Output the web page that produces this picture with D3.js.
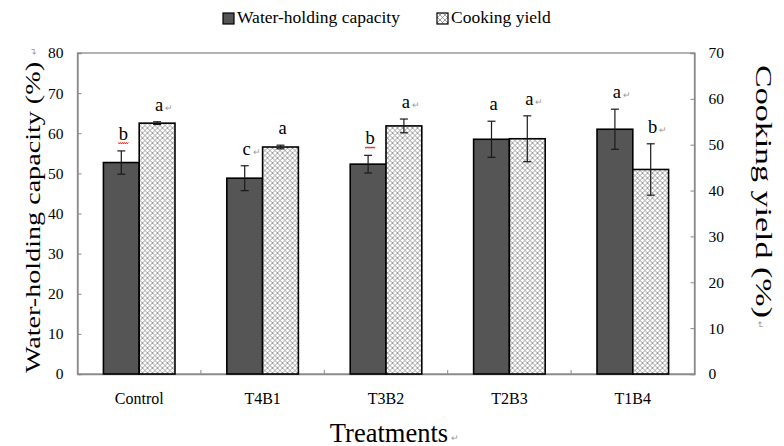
<!DOCTYPE html>
<html>
<head>
<meta charset="utf-8">
<script src="https://cdn.jsdelivr.net/npm/d3@7"></script>
<style>
  body { margin: 0; background: #fff; }
  svg, text { font-family: "Liberation Serif", "Times New Roman", serif; }
</style>
</head>
<body>
<div id="chart"></div>
<script>
// data
const categories = ['Control', 'T4B1', 'T3B2', 'T2B3', 'T1B4'];
const whc = [52.7, 48.8, 52.3, 58.5, 61.0];
const whcErr = [2.9, 3.1, 2.2, 4.5, 5.0];
const cy = [54.7, 49.5, 54.1, 51.3, 44.6];
const cyErr = [0.3, 0.4, 1.5, 5.0, 5.6];
// significance letters, a trailing ↵ is the Word paragraph mark left in the figure
const whcLetters = ['b', 'c↵', 'b', 'a', 'a↵'];
const cyLetters = ['a↵', 'a', 'a↵', 'a↵', 'b↵'];
const leftTicks = [0, 10, 20, 30, 40, 50, 60, 70, 80];
const rightTicks = [0, 10, 20, 30, 40, 50, 60, 70];

const serif = '"Liberation Serif", "Times New Roman", serif';
const width = 784, height = 446;
const margin = { top: 53, right: 89.5, bottom: 72, left: 77.5 };
const plotW = width - margin.left - margin.right;
const plotH = height - margin.top - margin.bottom;

const svg = d3.select('#chart').append('svg')
  .attr('width', width)
  .attr('height', height)
  .attr('font-family', serif);

svg.append('rect').attr('width', width).attr('height', height).attr('fill', '#fff');

// cross hatch used by the cooking yield bars
const defs = svg.append('defs');
const pat = defs.append('pattern')
  .attr('id', 'hatch')
  .attr('patternUnits', 'userSpaceOnUse')
  .attr('width', 5).attr('height', 5);
pat.append('rect').attr('width', 5).attr('height', 5).attr('fill', '#fff');
pat.append('path')
  .attr('d', 'M0,0L5,5M5,0L0,5M-1,4L1,6M4,-1L6,1M-1,1L1,-1M4,6L6,4')
  .attr('stroke', '#777')
  .attr('stroke-width', 0.7);

const g = svg.append('g').attr('transform', `translate(${margin.left},${margin.top})`);

const x0 = d3.scaleBand().domain(categories).range([0, plotW])
  .paddingInner(0.42).paddingOuter(0.21);
const x1 = d3.scaleBand().domain(['whc', 'cy']).range([0, x0.bandwidth()]);
const yL = d3.scaleLinear().domain([0, 80]).range([plotH, 0]);
const yR = d3.scaleLinear().domain([0, 70]).range([plotH, 0]);

// frame
g.append('rect')
  .attr('width', plotW).attr('height', plotH)
  .attr('fill', 'none').attr('stroke', '#8a8a8a').attr('stroke-width', 1.3);

// left axis
const axL = g.append('g').call(d3.axisLeft(yL).tickValues(leftTicks).tickSize(-4).tickPadding(14));
// right axis
const axR = g.append('g').attr('transform', `translate(${plotW},0)`)
  .call(d3.axisRight(yR).tickValues(rightTicks).tickSize(-4).tickPadding(14));
[axL, axR].forEach(a => {
  a.attr('font-family', serif).attr('font-size', 15.5);
  a.select('.domain').attr('stroke', '#8a8a8a').attr('stroke-width', 1.3);
  a.selectAll('.tick line').attr('stroke', '#8a8a8a');
  a.selectAll('.tick text').attr('fill', '#000');
});

// x axis: category labels, small ticks between groups
const axX = g.append('g').attr('transform', `translate(0,${plotH})`)
  .call(d3.axisBottom(x0).tickSize(0).tickPadding(19));
axX.attr('font-family', serif).attr('font-size', 16);
axX.select('.domain').attr('stroke', '#8a8a8a').attr('stroke-width', 1.3);
axX.selectAll('.tick text').attr('fill', '#000');
g.append('g').selectAll('line')
  .data(categories.slice(1))
  .join('line')
  .attr('x1', d => x0(d) - x0.step() * x0.paddingInner() / 2)
  .attr('x2', d => x0(d) - x0.step() * x0.paddingInner() / 2)
  .attr('y1', plotH).attr('y2', plotH - 4)
  .attr('stroke', '#8a8a8a');

// series table built from the arrays
const rows = categories.map((c, i) => [
  { cat: c, key: 'whc', v: whc[i], e: whcErr[i], lab: whcLetters[i], y: yL },
  { cat: c, key: 'cy', v: cy[i], e: cyErr[i], lab: cyLetters[i], y: yR }
]).flat();

const bx = d => x0(d.cat) + x1(d.key);
const bw = x1.bandwidth();

g.append('g').selectAll('rect')
  .data(rows)
  .join('rect')
  .attr('x', bx)
  .attr('y', d => d.y(d.v))
  .attr('width', bw)
  .attr('height', d => plotH - d.y(d.v))
  .attr('fill', d => d.key === 'whc' ? '#555555' : 'url(#hatch)')
  .attr('stroke', '#000')
  .attr('stroke-width', 1.6);

// error bars
const eb = g.append('g').attr('stroke', '#1a1a1a').attr('stroke-width', 1.2);
rows.forEach(d => {
  const cx = bx(d) + bw / 2;
  const top = d.y(d.v + d.e), bot = d.y(d.v - d.e);
  eb.append('line').attr('x1', cx).attr('x2', cx).attr('y1', top).attr('y2', bot);
  eb.append('line').attr('x1', cx - 4).attr('x2', cx + 4).attr('y1', top).attr('y2', top);
  eb.append('line').attr('x1', cx - 4).attr('x2', cx + 4).attr('y1', bot).attr('y2', bot);
});

// significance letters
rows.forEach(d => {
  const cx = bx(d) + bw / 2 + 2;
  const base = d.y(d.v + d.e) - 11;
  const letter = d.lab[0];
  g.append('text')
    .attr('x', cx).attr('y', base)
    .attr('text-anchor', 'middle')
    .style('font-size', '18.5px')
    .text(letter);
  if (d.lab.length > 1) {
    g.append('text')
      .attr('x', cx + 6).attr('y', base)
      .style('font-size', '9px').style('fill', '#999')
      .text('↵');
  }
  if (letter === 'b' && d.key === 'whc' && d.cat !== 'T1B4') {
    // red spell-check squiggle under the "b"
    const pts = d3.range(0, 11).map(k => [cx - 5 + k, base + 3 + (k % 2 ? 1 : -0.5)]);
    g.append('path').attr('d', d3.line()(pts))
      .attr('fill', 'none').attr('stroke', '#e0301e').attr('stroke-width', 1);
  }
});

// axis titles
svg.append('text')
  .attr('transform', 'translate(40,217.5) rotate(-90)')
  .attr('text-anchor', 'middle')
  .attr('textLength', 311).attr('lengthAdjust', 'spacingAndGlyphs')
  .style('font-size', '22px')
  .text('Water-holding capacity (%)');
svg.append('text')
  .attr('transform', 'translate(37,55) rotate(-90)')
  .style('font-size', '9px').style('fill', '#999')
  .text('↵');

svg.append('text')
  .attr('transform', 'translate(756,191.5) rotate(90)')
  .attr('text-anchor', 'middle')
  .attr('textLength', 253).attr('lengthAdjust', 'spacingAndGlyphs')
  .style('font-size', '24px')
  .text('Cooking yield (%)');
svg.append('text')
  .attr('transform', 'translate(757,321) rotate(90)')
  .style('font-size', '9px').style('fill', '#999')
  .text('↵');

svg.append('text')
  .attr('x', 389).attr('y', 441.5)
  .attr('text-anchor', 'middle')
  .style('font-size', '26.5px')
  .text('Treatments');
svg.append('text')
  .attr('x', 451).attr('y', 441)
  .style('font-size', '9px').style('fill', '#999')
  .text('↵');

// legend
const legend = svg.append('g');
const legItems = [
  { label: 'Water-holding capacity', fill: '#555555', x: 223 },
  { label: 'Cooking yield', fill: 'url(#hatch)', x: 437 }
];
legItems.forEach(it => {
  legend.append('rect')
    .attr('x', it.x).attr('y', 13).attr('width', 11).attr('height', 11)
    .attr('fill', it.fill).attr('stroke', '#000').attr('stroke-width', 1.2);
  legend.append('text')
    .attr('x', it.x + 14).attr('y', 23)
    .style('font-size', '17.5px')
    .text(it.label);
});
</script>
</body>
</html>
